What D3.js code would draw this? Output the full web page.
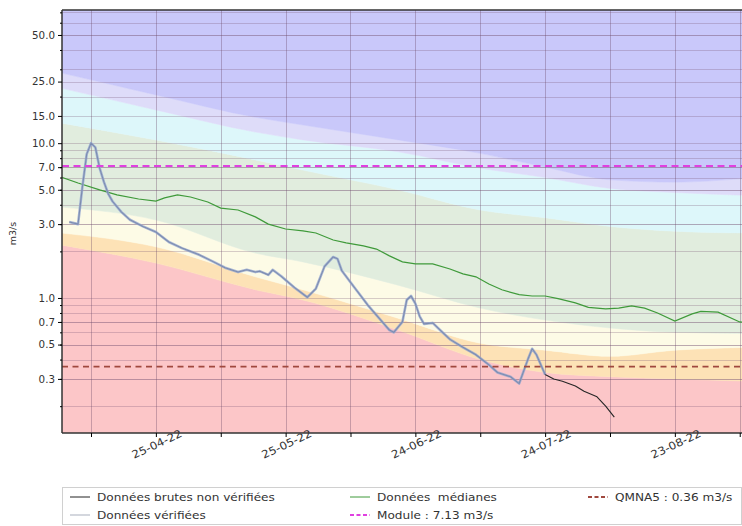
<!DOCTYPE html>
<html>
<head>
<meta charset="utf-8">
<script src="https://cdn.jsdelivr.net/npm/d3@7"></script>
<style>
    body { margin: 0; background: #fff; }
    svg { display: block; font-family: "DejaVu Sans", sans-serif; }
</style>
</head>
<body>
<div id="chart"></div>
<script>
// daily flow, raw (black) - verified part ends at verified_end
var flow_dates = ["2022-04-05","2022-04-07","2022-04-08","2022-04-09","2022-04-10","2022-04-11","2022-04-12","2022-04-13",
    "2022-04-14","2022-04-15","2022-04-17","2022-04-19","2022-04-22","2022-04-25","2022-04-28","2022-05-01","2022-05-05",
    "2022-05-08","2022-05-11","2022-05-14","2022-05-16","2022-05-18","2022-05-19","2022-05-21","2022-05-22","2022-05-24",
    "2022-05-27","2022-05-30","2022-06-01","2022-06-03","2022-06-05","2022-06-06","2022-06-07","2022-06-10","2022-06-13",
    "2022-06-16","2022-06-18","2022-06-19","2022-06-21","2022-06-22","2022-06-23","2022-06-24","2022-06-25","2022-06-26",
    "2022-06-28","2022-06-30","2022-07-02","2022-07-05","2022-07-08","2022-07-11","2022-07-13","2022-07-16","2022-07-18",
    "2022-07-20","2022-07-21","2022-07-22","2022-07-24","2022-07-26","2022-07-28","2022-07-31","2022-08-02","2022-08-05",
    "2022-08-07","2022-08-09"];
var flow_values = [3.1, 3.0, 5.2, 8.5, 10.0, 9.4, 6.9, 5.6,
    4.7, 4.2, 3.6, 3.2, 2.9, 2.67, 2.3, 2.1, 1.9,
    1.73, 1.57, 1.47, 1.52, 1.47, 1.49, 1.41, 1.52, 1.38,
    1.17, 1.01, 1.15, 1.6, 1.84, 1.79, 1.5, 1.16, 0.90,
    0.72, 0.62, 0.60, 0.70, 0.97, 1.03, 0.92, 0.76, 0.68,
    0.69, 0.61, 0.54, 0.48, 0.43, 0.37, 0.33, 0.31, 0.28,
    0.40, 0.47, 0.43, 0.32, 0.30, 0.29, 0.27, 0.25, 0.23,
    0.20, 0.17];
var verified_end = "2022-07-24";

var median_dates = ["2022-04-03","2022-04-07","2022-04-12","2022-04-16","2022-04-21","2022-04-25","2022-04-27","2022-04-30",
    "2022-05-03","2022-05-07","2022-05-10","2022-05-14","2022-05-18","2022-05-21","2022-05-25","2022-05-29","2022-06-01",
    "2022-06-05","2022-06-08","2022-06-12","2022-06-15","2022-06-18","2022-06-21","2022-06-24","2022-06-28","2022-07-02",
    "2022-07-05","2022-07-08","2022-07-11","2022-07-14","2022-07-18","2022-07-21","2022-07-24","2022-07-27","2022-07-31",
    "2022-08-03","2022-08-07","2022-08-10","2022-08-13","2022-08-16","2022-08-19","2022-08-23","2022-08-27","2022-08-29",
    "2022-09-02","2022-09-07","2022-09-09"];
var median_values = [6.05, 5.53, 4.99, 4.63, 4.36, 4.23, 4.43, 4.63,
    4.49, 4.17, 3.81, 3.70, 3.34, 3.0, 2.79, 2.71, 2.63,
    2.37, 2.27, 2.17, 2.07, 1.87, 1.71, 1.66, 1.66, 1.54,
    1.43, 1.37, 1.23, 1.13, 1.05, 1.03, 1.03, 0.99, 0.93,
    0.87, 0.85, 0.86, 0.89, 0.86, 0.80, 0.71, 0.79, 0.82,
    0.81, 0.70, 0.69];

// percentile band limits (from low to high)
var band_dates = ["2022-04-03","2022-04-25","2022-05-18","2022-05-29","2022-06-20","2022-07-09","2022-07-24","2022-08-08","2022-08-23","2022-09-09"];
var band_q1 = [2.2, 1.68, 1.13, 0.97, 0.62, 0.40, 0.33, 0.31, 0.30, 0.29];
var band_q2 = [2.63, 2.14, 1.37, 1.13, 0.74, 0.51, 0.46, 0.42, 0.46, 0.48];
var band_q3 = [3.87, 3.19, 1.95, 1.71, 1.21, 0.86, 0.72, 0.64, 0.60, 0.59];
var band_q4 = [13.5, 10.5, 7.8, 6.7, 5.0, 3.7, 3.3, 2.9, 2.7, 2.63];
var band_q5 = [22.7, 16.4, 11.8, 10.5, 8.8, 6.9, 6.0, 5.1, 4.8, 4.6];
var band_q6 = [28.5, 20.5, 14.7, 13.1, 10.5, 8.6, 7.0, 5.8, 5.6, 5.95];
var band_colors = ["#fcc6c8", "#fde2b6", "#fdfbe6", "#e1edde", "#ddf7fa", "#dedcf9", "#c9c8fa"];

var module_value = 7.13;
var qmna5_value = 0.36;

var y_tick_values = [0.3, 0.5, 0.7, 1.0, 3.0, 5.0, 7.0, 10.0, 15.0, 25.0, 50.0];
var x_major_ticks = ["2022-04-25","2022-05-25","2022-06-24","2022-07-24","2022-08-23"];
var x_minor_ticks = ["2022-04-10","2022-05-10","2022-06-09","2022-07-09","2022-08-08","2022-09-07"];

var parse_date = d3.utcParse("%Y-%m-%d");
var format_tick = d3.utcFormat("%d-%m-%y");

var width = 742, height = 526;
var margin_left = 62, plot_top = 10, plot_bottom = 433;

var svg = d3.select("#chart").append("svg")
            .attr("width", width)
            .attr("height", height);

var x = d3.scaleUtc()
          .domain([new Date(Date.UTC(2022, 3, 3, 7)), new Date(Date.UTC(2022, 8, 9))])
          .range([margin_left, margin_left + 158.7 * 4.325]);

var y = d3.scaleLog()
          .domain([0.1342, 72.5])
          .range([plot_bottom, plot_top]);

svg.append("clipPath").attr("id", "plot-clip")
   .append("rect")
   .attr("x", margin_left).attr("y", plot_top)
   .attr("width", width - margin_left + 10).attr("height", plot_bottom - plot_top);

var plot = svg.append("g").attr("clip-path", "url(#plot-clip)");

draw_bands(plot);
draw_grid(plot);
draw_lines(plot);
draw_axes(svg);
draw_legend(svg);

function draw_bands(g)
{
    var dates = band_dates.map(parse_date);
    var y_min = y.domain()[0], y_max = y.domain()[1];
    var limits = [
        dates.map(function () { return y_min; }),
        band_q1, band_q2, band_q3, band_q4, band_q5, band_q6,
        dates.map(function () { return y_max; })
    ];

    for (var index = 0; index < band_colors.length; index++)
    {
        var lower = limits[index];
        var upper = limits[index + 1];
        var rows = dates.map(function (d, i) { return { date: d, low: lower[i], high: upper[i] }; });

        var area = d3.area()
                     .curve(d3.curveMonotoneX)
                     .x(function (d) { return x(d.date); })
                     .y0(function (d) { return y(d.low); })
                     .y1(function (d) { return y(d.high); });

        g.append("path")
         .datum(rows)
         .attr("d", area)
         .attr("fill", band_colors[index])
         .attr("stroke", band_colors[index])
         .attr("stroke-width", 0.5);
    }
}

function minor_log_values()
{
    var values = [];
    [0.1, 1, 10].forEach(function (decade) {
        for (var k = 2; k <= 9; k++) { values.push(k * decade); }
    });
    return values.filter(function (v) { return v > y.domain()[0] && v < y.domain()[1]; });
}

function draw_grid(g)
{
    var all_y = minor_log_values().concat(y_tick_values);

    g.selectAll(".hgrid").data(all_y).enter().append("line")
     .attr("x1", margin_left).attr("x2", width + 10)
     .attr("y1", function (d) { return Math.round(y(d)) + 0.5; })
     .attr("y2", function (d) { return Math.round(y(d)) + 0.5; })
     .attr("stroke", "#7a5a78").attr("stroke-opacity", 0.33).attr("stroke-width", 0.9);

    var all_x = x_major_ticks.concat(x_minor_ticks).map(parse_date);
    g.selectAll(".vgrid").data(all_x).enter().append("line")
     .attr("y1", plot_top).attr("y2", plot_bottom)
     .attr("x1", function (d) { return Math.round(x(d)) + 0.5; })
     .attr("x2", function (d) { return Math.round(x(d)) + 0.5; })
     .attr("stroke", "#6a4a68").attr("stroke-opacity", 0.4).attr("stroke-width", 0.9);
}

function draw_lines(g)
{
    var flow = flow_dates.map(function (d, i) { return { date: parse_date(d), value: flow_values[i] }; });
    var cut = parse_date(verified_end);
    var verified = flow.filter(function (d) { return d.date <= cut; });
    var median = median_dates.map(function (d, i) { return { date: parse_date(d), value: median_values[i] }; });

    var line = d3.line()
                 .x(function (d) { return x(d.date); })
                 .y(function (d) { return y(d.value); });

    g.append("path").datum(median).attr("d", line)
     .attr("fill", "none").attr("stroke", "#3f9a3a").attr("stroke-width", 1.2);

    g.append("path").datum(flow).attr("d", line)
     .attr("fill", "none").attr("stroke", "#262626").attr("stroke-width", 1.1)
     .attr("stroke-linejoin", "round");

    g.append("path").datum(verified).attr("d", line)
     .attr("fill", "none").attr("stroke", "#93a6d2").attr("stroke-opacity", 0.8).attr("stroke-width", 2.6)
     .attr("stroke-linejoin", "round");

    g.append("line")
     .attr("x1", margin_left).attr("x2", width + 10)
     .attr("y1", y(module_value)).attr("y2", y(module_value))
     .attr("stroke", "#e040e0").attr("stroke-width", 2).attr("stroke-dasharray", "7,4.5");

    g.append("line")
     .attr("x1", margin_left).attr("x2", width + 10)
     .attr("y1", y(qmna5_value)).attr("y2", y(qmna5_value))
     .attr("stroke", "#a0483e").attr("stroke-width", 1.6).attr("stroke-dasharray", "6,4.5");
}

function draw_axes(root)
{
    // spines
    root.append("line").attr("x1", margin_left).attr("x2", width + 5).attr("y1", plot_top).attr("y2", plot_top)
        .attr("stroke", "#333").attr("stroke-width", 1.5);
    root.append("line").attr("x1", margin_left).attr("x2", width + 5).attr("y1", plot_bottom).attr("y2", plot_bottom)
        .attr("stroke", "#333").attr("stroke-width", 1.5);
    root.append("line").attr("x1", margin_left).attr("x2", margin_left).attr("y1", plot_top).attr("y2", plot_bottom)
        .attr("stroke", "#333").attr("stroke-width", 1.5);

    // y axis: custom major ticks, log minor ticks
    var y_axis = d3.axisLeft(y)
                   .tickValues(y_tick_values)
                   .tickFormat(d3.format(".1f"))
                   .tickSizeOuter(0)
                   .tickSize(4);
    var ya = root.append("g").attr("transform", "translate(" + margin_left + ",0)").call(y_axis);
    ya.select(".domain").remove();
    ya.selectAll("text").attr("font-size", 10.3).attr("fill", "#333").attr("font-family", "DejaVu Sans");

    var y_minor = d3.axisLeft(y)
                    .tickValues(minor_log_values())
                    .tickFormat("")
                    .tickSizeOuter(0)
                    .tickSize(2);
    var ym = root.append("g").attr("transform", "translate(" + margin_left + ",0)").call(y_minor);
    ym.select(".domain").remove();

    root.append("text")
        .attr("transform", "translate(16," + ((plot_top + plot_bottom) / 2 + 12) + ")rotate(-90)")
        .attr("text-anchor", "middle")
        .attr("font-size", 9.5)
        .attr("fill", "#333")
        .text("m3/s");

    // x axis
    var x_axis = d3.axisBottom(x)
                   .tickValues(x_major_ticks.map(parse_date))
                   .tickFormat("")
                   .tickSizeOuter(0)
                   .tickSize(4);
    var xa = root.append("g").attr("transform", "translate(0," + plot_bottom + ")").call(x_axis);
    xa.select(".domain").remove();

    var x_minor = d3.axisBottom(x)
                    .tickValues(x_minor_ticks.map(parse_date))
                    .tickFormat("")
                    .tickSizeOuter(0)
                    .tickSize(4);
    var xm = root.append("g").attr("transform", "translate(0," + plot_bottom + ")").call(x_minor);
    xm.select(".domain").remove();

    root.selectAll(".x-label")
        .data(x_major_ticks.map(parse_date))
        .enter().append("text")
        .attr("transform", function (d) { return "translate(" + (x(d) + 1) + "," + (plot_bottom + 11) + ")rotate(-25)scale(1.1,1)"; })
        .attr("text-anchor", "middle")
        .attr("dy", "0.35em")
        .attr("font-size", 10.8)
        .attr("fill", "#333")
        .text(function (d) { return format_tick(d); });
}

function draw_legend(root)
{
    var legend_top = 487, legend_bottom = 524;
    root.append("rect")
        .attr("x", margin_left + 0.5).attr("y", legend_top + 0.5)
        .attr("width", 741 - margin_left).attr("height", legend_bottom - legend_top)
        .attr("fill", "#fff").attr("stroke", "#d0d0d0");

    var entries = [
        { label: "Données brutes non vérifiées", color: "#222", dash: null, width: 1, col: 0, row: 0 },
        { label: "Données vérifiées", color: "#b8bcc8", dash: null, width: 1.2, col: 0, row: 1 },
        { label: "Données  médianes", color: "#3f9a3a", dash: null, width: 1, col: 1, row: 0 },
        { label: "Module : 7.13 m3/s", color: "#e040e0", dash: "4,2.5", width: 1.8, col: 1, row: 1 },
        { label: "QMNA5 : 0.36 m3/s", color: "#a0483e", dash: "4,2.5", width: 1.8, col: 2, row: 0 }
    ];
    var col_x = [70, 350, 588];
    var row_y = [497, 515];

    for (var index in entries)
    {
        var entry = entries[index];
        var lx = col_x[entry.col];
        var ly = row_y[entry.row];

        var ln = root.append("line")
                     .attr("x1", lx).attr("x2", lx + 20)
                     .attr("y1", ly).attr("y2", ly)
                     .attr("stroke", entry.color)
                     .attr("stroke-width", entry.width);
        if (entry.dash) { ln.attr("stroke-dasharray", entry.dash); }

        root.append("text")
            .attr("transform", "translate(" + (lx + 27) + "," + ly + ")scale(1.1,1)")
            .attr("dy", "0.35em")
            .attr("font-size", 11)
            .attr("fill", "#333")
            .style("white-space", "pre")
            .text(entry.label);
    }
}
</script>
</body>
</html>
